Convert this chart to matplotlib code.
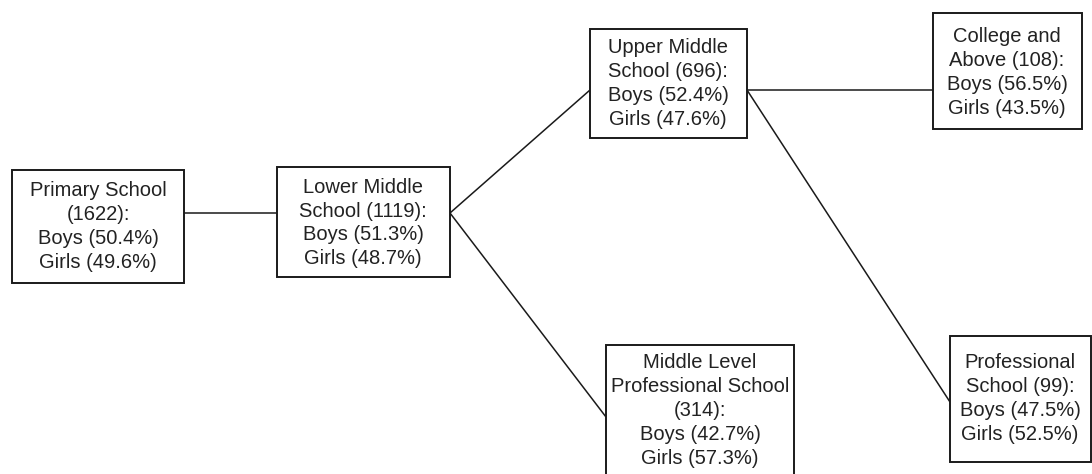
import matplotlib
matplotlib.use("Agg")
import matplotlib.pyplot as plt
from matplotlib.patches import Rectangle

plt.rcParams['font.family'] = ['Liberation Sans', 'DejaVu Sans']

# Data
node_names = ["Primary School", "Lower Middle School", "Upper Middle School",
              "College and Above", "Middle Level Professional School", "Professional School"]
node_text = [
    "Primary School\n(1622):",
    "Lower Middle\nSchool (1119):",
    "Upper Middle\nSchool (696):",
    "College and\nAbove (108):",
    "Middle Level\nProfessional School\n(314):",
    "Professional\nSchool (99):",
]
counts = [1622, 1119, 696, 108, 314, 99]
boys_pct = [50.4, 51.3, 52.4, 56.5, 42.7, 47.5]
girls_pct = [49.6, 48.7, 47.6, 43.5, 57.3, 52.5]
edges = [(0, 1), (1, 2), (1, 4), (2, 3), (2, 5)]

# Layout (pixel space): box left, top, right, bottom
boxes = [
    (12, 170, 184, 283),
    (277, 167, 450, 277),
    (590, 29, 747, 138),
    (933, 13, 1082, 129),
    (606, 345, 794, 490),
    (950, 336, 1091, 462),
]
text_centers = [
    (98, 226.5), (363, 223), (668, 83.5), (1007, 72.5), (700, 410.5), (1020, 398.5)
]
edge_y = {(0, 1): (213, 213), (1, 2): (213, 90), (1, 4): (213, 417),
          (2, 3): (90, 90), (2, 5): (90, 402)}

fig = plt.figure(figsize=(10.92, 4.74), dpi=100)
ax = fig.add_axes([0, 0, 1, 1])
ax.set_xlim(0, 1092)
ax.set_ylim(474, 0)
ax.axis('off')

for (a, b) in edges:
    ya, yb = edge_y[(a, b)]
    xa = boxes[a][2]
    xb = boxes[b][0]
    ax.plot([xa, xb], [ya, yb], color='#1a1a1a', lw=1.1, solid_capstyle='butt')

for i, (l, t, r, btm) in enumerate(boxes):
    ax.add_patch(Rectangle((l, t), r - l, btm - t, facecolor='white',
                           edgecolor='#1a1a1a', lw=1.4, zorder=2))
    label = f"{node_text[i]}\nBoys ({boys_pct[i]}%)\nGirls ({girls_pct[i]}%)"
    cx, cy = text_centers[i]
    ax.text(cx, cy, label, ha='center', va='center', fontsize=14.5,
            linespacing=1.33, color='#222222', zorder=3)

fig.savefig("out.png", dpi=100)
